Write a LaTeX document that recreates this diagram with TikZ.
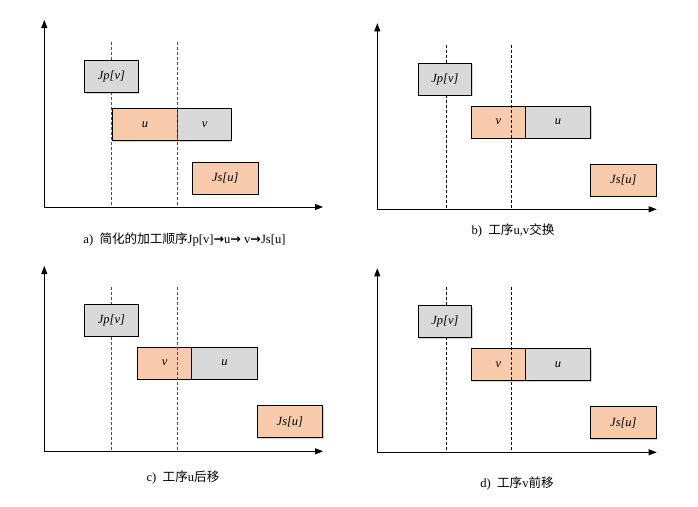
\documentclass[tikz,border=0pt]{standalone}
\usepackage{fontspec}
\setmainfont{Liberation Serif}
\newfontfamily\cjk{Noto Sans CJK SC}
\newfontfamily\arrowfont{DejaVu Sans}
\usetikzlibrary{arrows.meta,shadows}
\definecolor{boxgray}{HTML}{D9D9D9}
\definecolor{boxorange}{HTML}{F8CBAD}
\newcommand{\thickarrow}{{\arrowfont\bfseries →}}
\begin{document}
\begin{tikzpicture}[x=1pt,y=-1pt,
  opbox/.style={draw=black,line width=0.8pt,anchor=north west,inner sep=0pt,
    minimum height=32pt,font=\fontsize{12.5}{14}\selectfont\itshape,
    drop shadow={shadow xshift=0.8pt,shadow yshift=-0.8pt,opacity=0.35}},
  grayop/.style={opbox,fill=boxgray},
  orangeop/.style={opbox,fill=boxorange},
  axisline/.style={line width=0.8pt,-{Triangle[length=8pt,width=6pt]}},
  guide/.style={line width=0.7pt,dash pattern=on 3pt off 2pt},
  captext/.style={font=\fontsize{12.6}{14}\selectfont,inner sep=0pt}]
\useasboundingbox (0,0) rectangle (698,506);

% ---------- panel a ----------
\coordinate (aO) at (44.3,207);
\coordinate (aY) at (44.3,20);
\coordinate (aX) at (323,207);
\coordinate (aD1t) at (111.7,42); \coordinate (aD1b) at (111.7,207);
\coordinate (aD2t) at (177.3,42); \coordinate (aD2b) at (177.3,207);
\node[orangeop,minimum width=65.3pt] (au) at (112,108.3) {u};
\node[grayop,minimum width=53.7pt] (av) at (177.3,108.3) {v};
\draw[guide,black!70] (aD1t) -- (aD1b);
\draw[guide,black!70] (aD2t) -- (aD2b);
\node[grayop,minimum width=53.4pt] (aJp) at (84.3,60.3) {Jp[v]};
\node[orangeop,minimum width=65.7pt] (aJs) at (192,161.7) {Js[u]};
\draw[axisline] (aO) -- (aY);
\draw[axisline] (aO) -- (aX);
\node[captext] (acap) at (184.5,240) {a)\ \ {\cjk 简化的加工顺序}Jp[v]\thickarrow u\thickarrow\ v\thickarrow Js[u]};

% ---------- panel b ----------
\coordinate (bO) at (377.3,209.3);
\coordinate (bY) at (377.3,23.3);
\coordinate (bX) at (656.7,209.3);
\coordinate (bD1t) at (446,45); \coordinate (bD1b) at (446,209.3);
\coordinate (bD2t) at (511.7,45); \coordinate (bD2b) at (511.7,209.3);
\node[orangeop,minimum width=53.4pt] (bv) at (471.3,105.7) {v};
\node[grayop,minimum width=65.6pt] (bu) at (524.7,105.7) {u};
\draw[guide,black] (bD1t) -- (bD1b);
\draw[guide,black] (bD2t) -- (bD2b);
\node[grayop,minimum width=53.6pt] (bJp) at (417.7,62.7) {Jp[v]};
\node[orangeop,minimum width=66pt] (bJs) at (590,164) {Js[u]};
\draw[axisline] (bO) -- (bY);
\draw[axisline] (bO) -- (bX);
\node[captext] (bcap) at (513,230) {b)\ \ {\cjk 工序}u,v{\cjk 交换}};

% ---------- panel c ----------
\coordinate (cO) at (44.3,451.3);
\coordinate (cY) at (44.3,266);
\coordinate (cX) at (323,451.3);
\coordinate (cD1t) at (111.7,286.7); \coordinate (cD1b) at (111.7,451.3);
\coordinate (cD2t) at (177.3,286.7); \coordinate (cD2b) at (177.3,451.3);
\node[orangeop,minimum width=54pt] (cv) at (137.3,346.7) {v};
\node[grayop,minimum width=65.4pt] (cu) at (191.3,346.7) {u};
\draw[guide,black!70] (cD1t) -- (cD1b);
\draw[guide,black!70] (cD2t) -- (cD2b);
\node[grayop,minimum width=53.4pt] (cJp) at (84.3,304) {Jp[v]};
\node[orangeop,minimum width=65.6pt] (cJs) at (256.7,405.3) {Js[u]};
\draw[axisline] (cO) -- (cY);
\draw[axisline] (cO) -- (cX);
\node[captext] (ccap) at (183,478) {c)\ \ {\cjk 工序}u{\cjk 后移}};

% ---------- panel d ----------
\coordinate (dO) at (377.3,452.3);
\coordinate (dY) at (377.3,268.3);
\coordinate (dX) at (656.7,452.3);
\coordinate (dD1t) at (446,287.3); \coordinate (dD1b) at (446,452.3);
\coordinate (dD2t) at (511.7,287.3); \coordinate (dD2b) at (511.7,452.3);
\node[orangeop,minimum width=53.4pt] (dv) at (471.3,348.3) {v};
\node[grayop,minimum width=65.6pt] (du) at (524.7,348.3) {u};
\draw[guide,black] (dD1t) -- (dD1b);
\draw[guide,black] (dD2t) -- (dD2b);
\node[grayop,minimum width=53.6pt] (dJp) at (417.7,305.3) {Jp[v]};
\node[orangeop,minimum width=66pt] (dJs) at (590,406.3) {Js[u]};
\draw[axisline] (dO) -- (dY);
\draw[axisline] (dO) -- (dX);
\node[captext] (dcap) at (517,484) {d)\ \ {\cjk 工序}v{\cjk 前移}};
\end{tikzpicture}
\end{document}
